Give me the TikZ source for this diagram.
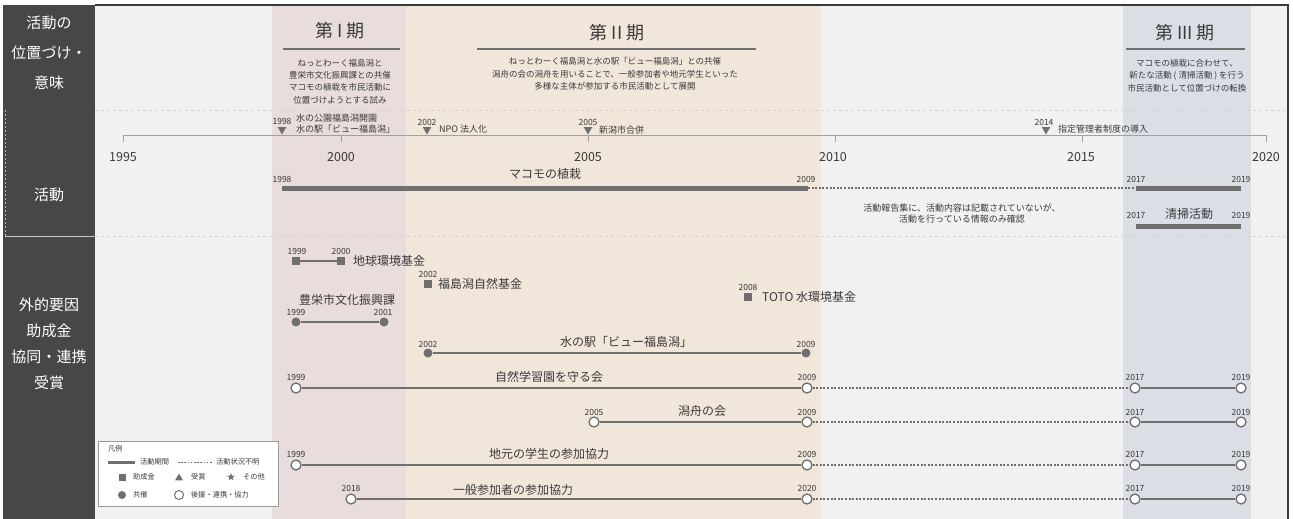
\documentclass[tikz,border=0pt]{standalone}
\usepackage{fontspec}
\setmainfont{Noto Sans CJK JP}
\usetikzlibrary{shapes.geometric}
\definecolor{panel}{HTML}{474747}
\definecolor{bg}{HTML}{F0F1F0}
\definecolor{pone}{HTML}{E9DCDD}
\definecolor{ptwo}{HTML}{F1E6DA}
\definecolor{pthree}{HTML}{DCDEE6}
\definecolor{ink}{HTML}{3A3A3A}
\definecolor{ln}{HTML}{6F6F6F}
\definecolor{sep}{HTML}{D2D2D2}
\definecolor{axc}{HTML}{A0A0A0}
\begin{document}
\begin{tikzpicture}[x=1pt,y=-1pt,
  panelt/.style={text=white, font=\fontsize{15}{15}\selectfont, inner sep=0},
  ttl/.style={text=ink, font=\fontsize{18}{18}\selectfont, inner sep=0},
  desc/.style={text=ink, font=\fontsize{8.5}{12.3}\selectfont, align=center, inner sep=0},
  ev/.style={text=ink, font=\fontsize{9}{11}\selectfont, align=left, anchor=west, inner sep=0},
  yr/.style={text=ink, font=\fontsize{8.5}{8.5}\selectfont, inner sep=0},
  big/.style={text=ink, font=\fontsize{12}{12}\selectfont, inner sep=0},
  axy/.style={text=ink, font=\fontsize{12.5}{12.5}\selectfont, inner sep=0},
  lg/.style={text=ink, font=\fontsize{7.2}{7.2}\selectfont, inner sep=0, anchor=west},
  sqm/.style={rectangle, fill=ln, minimum size=8pt, inner sep=0},
  fcm/.style={circle, fill=ln, minimum size=9pt, inner sep=0},
  ocm/.style={circle, draw=ln, fill=white, line width=1.3pt, minimum size=10pt, inner sep=0},
  trim/.style={regular polygon, regular polygon sides=3, shape border rotate=180, fill=ln, minimum size=10pt, inner sep=0},
  upm/.style={regular polygon, regular polygon sides=3, fill=ln, minimum size=10pt, inner sep=0},
  starm/.style={star, star points=5, star point ratio=2.4, fill=ln, minimum size=9pt, inner sep=0},
  barl/.style={draw=ln, line width=5pt},
  thinl/.style={draw=ln, line width=1.8pt},
  unkl/.style={draw=ln, line width=1.3pt, dash pattern=on 2pt off 1.6pt},
  sepl/.style={draw=sep, line width=0.8pt, dash pattern=on 3pt off 3pt},
  axl/.style={draw=axc, line width=1pt},
  ull/.style={draw=ln, line width=1.5pt}
]
\useasboundingbox (0,0) rectangle (1293,519);
\fill[white] (0,0) rectangle (1293,519);
% backgrounds
\fill[bg] (95,5) rectangle (1288,519);
\fill[pone] (272,5) rectangle (406,519);
\fill[ptwo] (406,5) rectangle (821,519);
\fill[pthree] (1123,5) rectangle (1251,519);
\fill[panel] (3,5) rectangle (95,519);
\draw[sepl] (95,110) -- (1288,110);
\draw[sepl] (95,236) -- (1288,236);
\draw[draw=gray!55, line width=0.5pt, dash pattern=on 2pt off 2pt] (5,110) -- (5,236);
\draw[draw=gray!45, line width=0.4pt] (5,236) -- (95,236);
\draw[draw=ink, line width=1.2pt] (95,5) -- (1288,5) -- (1288,519);

% left panel
\node[panelt] (l1) at (49,23) {活動の};
\node[panelt] (l2) at (49,53) {位置づけ・};
\node[panelt] (l3) at (49,83) {意味};
\node[panelt] (l4) at (49,195) {活動};
\node[panelt] (l5) at (49,305) {外的要因};
\node[panelt] (l6) at (49,331) {助成金};
\node[panelt] (l7) at (49,357) {協同・連携};
\node[panelt] (l8) at (49,383) {受賞};

% periods
\node[ttl] (t1) at (340,31) {第 I 期};
\draw[ull] (283,49) -- (400,49);
\node[desc] (d1) at (340,81.5) {ねっとわーく福島潟と\\豊栄市文化振興課との共催\\マコモの植栽を市民活動に\\位置づけようとする試み};
\node[ttl] (t2) at (617,33) {第 II 期};
\draw[ull] (477,49) -- (756,49);
\node[desc] (d2) at (615,74) {ねっとわーく福島潟と水の駅「ビュー福島潟」との共催\\潟舟の会の潟舟を用いることで、一般参加者や地元学生といった\\多様な主体が参加する市民活動として展開};
\node[ttl] (t3) at (1185,33) {第 III 期};
\draw[ull] (1126,49) -- (1245,49);
\node[desc] (d3) at (1187,75.5) {マコモの植栽に合わせて、\\新たな活動 ( 清掃活動 ) を行う\\市民活動として位置づけの転換};

% axis
\coordinate (a95) at (123,135);
\coordinate (a00) at (341,135);
\coordinate (a05) at (588,135);
\coordinate (a10) at (835,135);
\coordinate (a15) at (1082,135);
\coordinate (a20) at (1266,135);
\draw[axl] (a95) -- (a20);
\foreach \c in {a95,a00,a05,a10,a15,a20} \draw[axl] (\c) -- ++(0,7);
\node[axy] (x95) at (123,157) {1995};
\node[axy] (x00) at (341,157) {2000};
\node[axy] (x05) at (588,157) {2005};
\node[axy] (x10) at (833,157) {2010};
\node[axy] (x15) at (1081,157) {2015};
\node[axy] (x20) at (1266,157) {2020};

% events
\node[trim] (e1) at (282,129.5) {};
\node[yr] (e1y) at (282,121) {1998};
\node[ev] (e1t) at (296,124) {水の公園福島潟開園\\水の駅「ビュー福島潟」};
\node[trim] (e2) at (427,129.5) {};
\node[yr] (e2y) at (427,122) {2002};
\node[ev] (e2t) at (439,129.5) {NPO 法人化};
\node[trim] (e3) at (588,129.5) {};
\node[yr] (e3y) at (588,122) {2005};
\node[ev] (e3t) at (599,130) {新潟市合併};
\node[trim] (e4) at (1046,129.5) {};
\node[yr] (e4y) at (1044,122) {2014};
\node[ev] (e4t) at (1058,129) {指定管理者制度の導入};

% activities
\node[big] (m0) at (545,174) {マコモの植栽};
\coordinate (m1s) at (282,188);
\coordinate (m1e) at (808,188);
\coordinate (m2s) at (1136,188);
\coordinate (m2e) at (1241,188);
\draw[barl] (m1s) -- (m1e);
\draw[unkl] (m1e) -- (m2s);
\draw[barl] (m2s) -- (m2e);
\node[yr] (m1y) at (282,179) {1998};
\node[yr] (m2y) at (806,179) {2009};
\node[yr] (m3y) at (1136,179) {2017};
\node[yr] (m4y) at (1241,179) {2019};
\node[desc, font=\fontsize{9}{11.5}\selectfont] (note) at (962,213.5) {活動報告集に、活動内容は記載されていないが、\\活動を行っている情報のみ確認};
\node[big] (c0) at (1189,214) {清掃活動};
\node[yr] (c1y) at (1136,215) {2017};
\node[yr] (c2y) at (1241,215) {2019};
\coordinate (c1s) at (1136,226);
\coordinate (c1e) at (1241,226);
\draw[barl] (c1s) -- (c1e);

% external factors
\node[sqm] (g1a) at (296,261) {};
\node[sqm] (g1b) at (341,261) {};
\draw[thinl, line width=1.3pt] (g1a) -- (g1b);
\node[yr] (g1ay) at (297,251) {1999};
\node[yr] (g1by) at (341,251) {2000};
\node[big, anchor=west] (g1t) at (353,261) {地球環境基金};
\node[sqm] (g2) at (428,284) {};
\node[yr] (g2y) at (428,274) {2002};
\node[big, anchor=west] (g2t) at (438,284) {福島潟自然基金};
\node[sqm] (g3) at (748,297) {};
\node[yr] (g3y) at (748,287) {2008};
\node[big, anchor=west] (g3t) at (762,297) {TOTO 水環境基金};

\node[big] (h0) at (347,300) {豊栄市文化振興課};
\node[fcm] (h1) at (296,322) {};
\node[fcm] (h2) at (384,322) {};
\draw[thinl] (h1) -- (h2);
\node[yr] (h1y) at (296,312) {1999};
\node[yr] (h2y) at (383,312) {2001};

\node[big] (v0) at (626,342) {水の駅「ビュー福島潟」};
\node[fcm] (v1) at (428,353) {};
\node[fcm] (v2) at (806,353) {};
\draw[thinl] (v1) -- (v2);
\node[yr] (v1y) at (428,344) {2002};
\node[yr] (v2y) at (806,344) {2009};

% row: 自然学習園を守る会
\node[big] (r1) at (549,377) {自然学習園を守る会};
\node[ocm] (r1a) at (296,388) {};
\node[ocm] (r1b) at (807,388) {};
\node[ocm] (r1c) at (1135,388) {};
\node[ocm] (r1d) at (1241,388) {};
\draw[thinl] (r1a) -- (r1b);
\draw[unkl] (r1b) -- (r1c);
\draw[thinl] (r1c) -- (r1d);
\node[yr] (r1ay) at (296,377) {1999};
\node[yr] (r1by) at (807,377) {2009};
\node[yr] (r1cy) at (1135,377) {2017};
\node[yr] (r1dy) at (1241,377) {2019};

% row: 潟舟の会
\node[big] (r2) at (702,411) {潟舟の会};
\node[ocm] (r2a) at (594,422) {};
\node[ocm] (r2b) at (807,422) {};
\node[ocm] (r2c) at (1135,422) {};
\node[ocm] (r2d) at (1241,422) {};
\draw[thinl] (r2a) -- (r2b);
\draw[unkl] (r2b) -- (r2c);
\draw[thinl] (r2c) -- (r2d);
\node[yr] (r2ay) at (594,412) {2005};
\node[yr] (r2by) at (807,412) {2009};
\node[yr] (r2cy) at (1135,412) {2017};
\node[yr] (r2dy) at (1241,412) {2019};

% row: 地元の学生の参加協力
\node[big] (r3) at (549,454) {地元の学生の参加協力};
\node[ocm] (r3a) at (296,465) {};
\node[ocm] (r3b) at (807,465) {};
\node[ocm] (r3c) at (1135,465) {};
\node[ocm] (r3d) at (1241,465) {};
\draw[thinl] (r3a) -- (r3b);
\draw[unkl] (r3b) -- (r3c);
\draw[thinl] (r3c) -- (r3d);
\node[yr] (r3ay) at (296,454) {1999};
\node[yr] (r3by) at (807,454) {2009};
\node[yr] (r3cy) at (1135,454) {2017};
\node[yr] (r3dy) at (1241,454) {2019};

% row: 一般参加者の参加協力
\node[big] (r4) at (513,490) {一般参加者の参加協力};
\node[ocm] (r4a) at (351,499) {};
\node[ocm] (r4b) at (807,499) {};
\node[ocm] (r4c) at (1135,499) {};
\node[ocm] (r4d) at (1241,499) {};
\draw[thinl] (r4a) -- (r4b);
\draw[unkl] (r4b) -- (r4c);
\draw[thinl] (r4c) -- (r4d);
\node[yr] (r4ay) at (351,488) {2018};
\node[yr] (r4by) at (807,488) {2020};
\node[yr] (r4cy) at (1135,488) {2017};
\node[yr] (r4dy) at (1241,488) {2019};

% legend
\draw[draw=gray!80, fill=white, line width=0.8pt] (98,441) rectangle (278,506);
\node[lg] (lgt) at (108,449) {凡例};
\coordinate (lb1) at (108,462);
\coordinate (lb2) at (135,462);
\draw[draw=ln, line width=3pt] (lb1) -- (lb2);
\node[lg] (lgA) at (140,462) {活動期間};
\coordinate (lu1) at (178,462);
\coordinate (lu2) at (212,462);
\draw[draw=ln, line width=1pt, dash pattern=on 1.6pt off 1.6pt] (lu1) -- (lu2);
\node[lg] (lgB) at (216,462) {活動状況不明};
\node[sqm, minimum size=7pt] (ls) at (122,477) {};
\node[lg] (lgC) at (133,477) {助成金};
\node[upm, minimum size=9pt] (lt) at (179,478) {};
\node[lg] (lgD) at (191,477) {受賞};
\node[starm, minimum size=8pt] (lst) at (231,477) {};
\node[lg] (lgE) at (243,477) {その他};
\node[fcm, minimum size=8pt] (lc) at (122,495) {};
\node[lg] (lgF) at (133,495) {共催};
\node[ocm, minimum size=9pt, line width=1pt] (lo) at (179,495) {};
\node[lg] (lgG) at (191,495) {後援・連携・協力};
\end{tikzpicture}
\end{document}
